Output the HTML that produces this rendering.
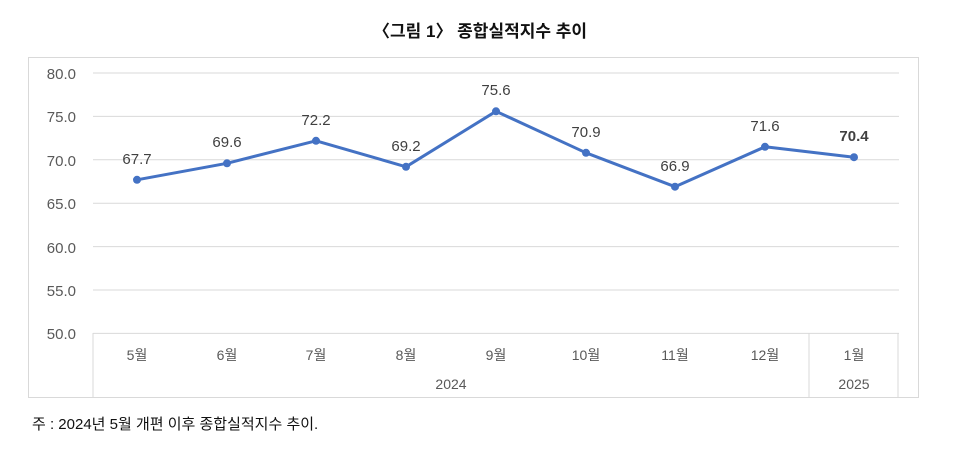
<!DOCTYPE html>
<html><head><meta charset="utf-8"><style>
body{margin:0;background:#fff;width:960px;height:450px;overflow:hidden}
svg{display:block}
text{font-family:"Liberation Sans","Noto Sans CJK KR",sans-serif}
</style></head><body>
<svg width="960" height="450" xmlns="http://www.w3.org/2000/svg">
<text x="480" y="37" text-anchor="middle" font-size="17" font-weight="bold" fill="#111">〈그림 1〉 종합실적지수 추이</text>
<rect x="28.5" y="57.5" width="890" height="340" fill="none" stroke="#d9d9d9"/>
<g stroke="#d9d9d9" stroke-width="1">
<line x1="93" y1="73" x2="899" y2="73"/>
<line x1="93" y1="116.4" x2="899" y2="116.4"/>
<line x1="93" y1="159.8" x2="899" y2="159.8"/>
<line x1="93" y1="203.2" x2="899" y2="203.2"/>
<line x1="93" y1="246.6" x2="899" y2="246.6"/>
<line x1="93" y1="290" x2="899" y2="290"/>
<line x1="93" y1="333.4" x2="899" y2="333.4"/>
<line x1="93" y1="333" x2="93" y2="397"/>
<line x1="809" y1="333" x2="809" y2="397"/>
<line x1="898" y1="333" x2="898" y2="397"/>
</g>
<g font-size="15" fill="#595959" text-anchor="end">
<text x="76" y="79">80.0</text><text x="76" y="122">75.0</text><text x="76" y="166">70.0</text>
<text x="76" y="209">65.0</text><text x="76" y="253">60.0</text><text x="76" y="296">55.0</text><text x="76" y="339">50.0</text>
</g>
<g font-size="14" fill="#595959" text-anchor="middle">
<text x="137" y="360">5월</text><text x="227" y="360">6월</text><text x="316" y="360">7월</text>
<text x="406" y="360">8월</text><text x="496" y="360">9월</text><text x="586" y="360">10월</text>
<text x="675" y="360">11월</text><text x="765" y="360">12월</text><text x="854" y="360">1월</text>
<text x="451" y="389">2024</text><text x="854" y="389">2025</text>
</g>
<polyline fill="none" stroke="#4472c4" stroke-width="3" stroke-linejoin="round"
points="137,179.8 227,163.3 316,140.8 406,166.8 496,111.3 586,152.8 675,186.7 765,146.8 854,157.2"/>
<g fill="#4472c4">
<circle cx="137" cy="179.8" r="4"/><circle cx="227" cy="163.3" r="4"/><circle cx="316" cy="140.8" r="4"/>
<circle cx="406" cy="166.8" r="4"/><circle cx="496" cy="111.3" r="4"/><circle cx="586" cy="152.8" r="4"/>
<circle cx="675" cy="186.7" r="4"/><circle cx="765" cy="146.8" r="4"/><circle cx="854" cy="157.2" r="4"/>
</g>
<g font-size="15" fill="#404040" text-anchor="middle">
<text x="137" y="164">67.7</text><text x="227" y="147">69.6</text><text x="316" y="125">72.2</text>
<text x="406" y="151">69.2</text><text x="496" y="95">75.6</text><text x="586" y="137">70.9</text>
<text x="675" y="171">66.9</text><text x="765" y="131">71.6</text>
<text x="854" y="141" font-weight="bold">70.4</text>
</g>
<text x="32" y="429" font-size="15" fill="#111">주 : 2024년 5월 개편 이후 종합실적지수 추이.</text>
</svg>
</body></html>
